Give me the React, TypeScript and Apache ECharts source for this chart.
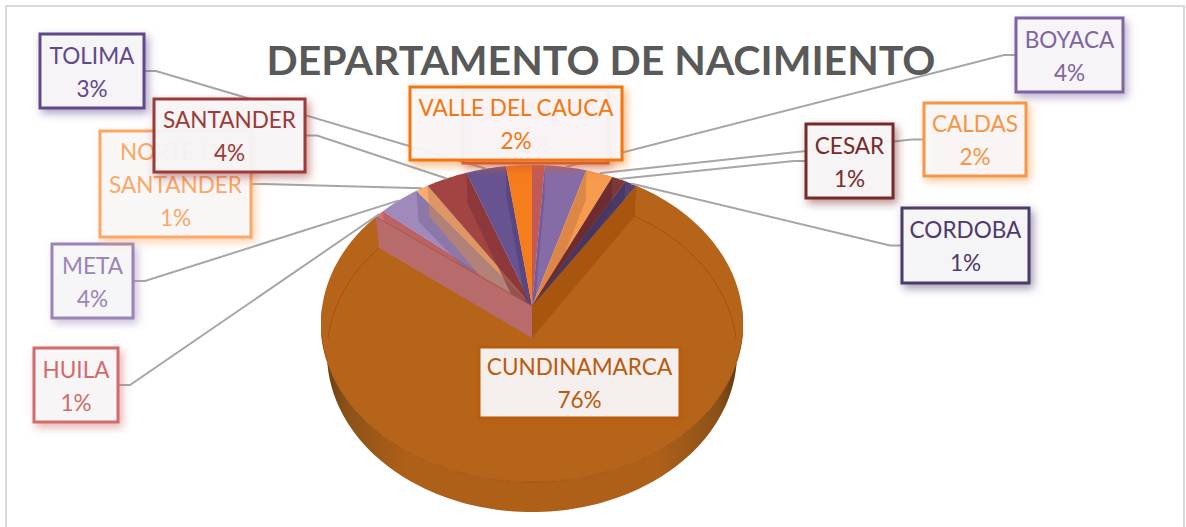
import React, { useEffect, useRef } from "react";
import * as echarts from "echarts";

const titleText = "DEPARTAMENTO DE NACIMIENTO";
const departments = ["ANTIOQUIA", "BOYACA", "CALDAS", "CESAR", "CORDOBA", "CUNDINAMARCA", "HUILA", "META", "NORTE DE\nSANTANDER", "SANTANDER", "TOLIMA", "VALLE DEL CAUCA"];
const shares = [1.08, 3.55, 2.3, 1.2, 1.03, 76.2, 0.83, 3.55, 1.08, 3.55, 3.4, 2.2];
const colors = ["#C0504D", "#8064A2", "#F79646", "#772C2A", "#4D3B6B", "#B85C10", "#D06C6C", "#9B84B8", "#FAA868", "#9C3A38", "#604A8B", "#F5760F"];

// label placement (x, y, w, h), side the leader leaves from
const boxes: any[] = [
  [463, 90, 145, 73, ""], [1016, 18, 107, 74, "L"], [924, 103, 102, 73, "L"], [806, 124, 87, 74, "L"],
  [902, 208, 127, 75, "L"], [479, 347, 201, 71, ""], [34, 348, 84, 74, "R"], [52, 244, 81, 74, "R"],
  [100, 131, 151, 106, "R"], [154, 99, 151, 73, "R"], [40, 34, 104, 74, "R"], [410, 87, 212, 73, ""],
];

const total = shares.reduce((a, b) => a + b, 0);
const starts: number[] = [];
shares.reduce((acc, v, i) => { starts[i] = (acc / total) * 360; return acc + v; }, 0);
const ends = starts.map((s, i) => s + (shares[i] / total) * 360);
const bigIndex = shares.indexOf(Math.max(...shares));

const FACES = [
  { ax: 532, ay: 306, R: 209.7, S: 156.6, p: 0.11 },
  { ax: 532, ay: 338, R: 204, S: 157, p: 0.098 },
];
function pt(deg: number, level: number): number[] {
  const f = FACES[level];
  const a = (deg * Math.PI) / 180;
  const d = 1 + f.p * Math.cos(a);
  return [f.ax + (f.R * Math.sin(a)) / d, f.ay - (f.S * Math.cos(a)) / d];
}
function arc(a: number, b: number, level: number): number[][] {
  const out: number[][] = [];
  const n = Math.max(2, Math.ceil(Math.abs(b - a) / 1.5));
  for (let i = 0; i <= n; i++) out.push(pt(a + ((b - a) * i) / n, level));
  return out;
}
const apex = (level: number) => [FACES[level].ax, FACES[level].ay];
const poly = (points: number[][], style: any) => ({ type: "polygon", silent: true, shape: { points }, style });
const wall = (deg: number, style: any) =>
  poly([apex(0), pt(deg, 0), pt(deg, 1), apex(1)], style);

function renderSlice(_: any, api: any) {
  const i = api.value(1);
  const c = colors[i];
  const children: any[] = [];
  if (i === bigIndex) {
    const s = starts[i], e = ends[i];
    const side = new echarts.graphic.LinearGradient(0, 0, 1, 0, [
      { offset: 0, color: "#5f3a14" }, { offset: 0.06, color: "#8a5218" }, { offset: 0.2, color: "#AE5F18" },
      { offset: 0.8, color: "#AE5F18" }, { offset: 0.94, color: "#8a5218" }, { offset: 1, color: "#533212" },
    ]);
    children.push(poly([...arc(90, 270, 0), ...arc(270, 90, 1)], { fill: side }));
    children.push(poly([apex(0), ...arc(s, e, 0)], { fill: "#B66419" }));
    const line = { fill: "none", stroke: "#9E500F", lineWidth: 1, opacity: 0.8 };
    children.push({ type: "polyline", silent: true, shape: { points: arc(s, 90, 1) }, style: line });
    children.push({ type: "polyline", silent: true, shape: { points: arc(270, e, 1) }, style: line });
    children.push({ type: "polyline", silent: true, shape: { points: arc(100, 260, 0) }, style: line });
  } else {
    const mid = (starts[i] + ends[i]) / 2;
    const inner = mid > 180 ? ends[i] : starts[i];
    children.push(poly([apex(0), ...arc(starts[i], ends[i], 0)], { fill: c, opacity: 0.95 }));
    children.push(wall(inner, { fill: c, opacity: 0.55 }));
    children.push(wall(inner, { fill: "#1a1030", opacity: 0.12 }));
  }
  return { type: "group", children };
}

// the two cut faces of the largest slice sit in front of the small slices
function renderCutFaces(_: any, api: any) {
  const i = api.value(1);
  if (i !== bigIndex) return { type: "group", children: [] };
  return {
    type: "group",
    children: [
      wall(starts[i], { fill: "#A8550F" }),
      wall(ends[i], { fill: "#B86B6B" }),
      { type: "polyline", silent: true, shape: { points: [apex(0), pt(ends[i], 0)] }, style: { fill: "none", stroke: "#A4584A", lineWidth: 1 } },
    ],
  };
}

function renderLeader(_: any, api: any) {
  const i = api.value(1);
  const [x, y, w, h, side] = boxes[i];
  if (!side) return { type: "group", children: [] };
  const target = pt((starts[i] + ends[i]) / 2, 0);
  const edge = side === "R" ? x + w : x;
  const elbow = side === "R" ? edge + 12 : edge - 12;
  const my = y + h / 2;
  return {
    type: "polyline", silent: true,
    shape: { points: [[edge, my], [elbow, my], target] },
    style: { fill: "none", stroke: "#A6A6A6", lineWidth: 2 },
  };
}

function renderLabel(_: any, api: any) {
  const i = api.value(1);
  const [x, y, w, h] = boxes[i];
  const c = colors[i];
  return {
    type: "group",
    children: [
      {
        type: "rect", silent: true, shape: { x, y, width: w, height: h },
        style: { fill: "rgba(249,248,249,0.93)", stroke: c, lineWidth: 3, shadowBlur: 8, shadowOffsetX: 3, shadowOffsetY: 4, shadowColor: c + "88" },
      },
      {
        type: "text", silent: true, x: x + w / 2, y: y + h / 2, scaleX: 0.94,
        style: {
          text: `${departments[i]}\n${Math.round(shares[i])}%`,
          align: "center", verticalAlign: "middle",
          font: '24px Lato', lineHeight: 33, fill: c,
        },
      },
    ],
  };
}

export default function App() {
  const ref = useRef<HTMLDivElement>(null);
  useEffect(() => {
    const chart = echarts.init(ref.current!, undefined, { renderer: "svg" });
    const pieData = shares.map((v, i) => ({ name: departments[i], value: [v, i] }));
    const ordered = [pieData[bigIndex], ...pieData.filter((_, i) => i !== bigIndex)];
    chart.setOption({
      animation: false,
      backgroundColor: "#FFFFFF",
      title: {
        text: titleText, left: 596, top: 34, textAlign: "center", z: 1,
        textStyle: { fontFamily: "Lato", fontWeight: "bold", fontSize: 41, color: "#595959" },
      },
      graphic: [{
        type: "rect", z: 0, silent: true,
        shape: { x: 6, y: 6, width: 1178, height: 540 },
        style: { fill: "#fff", stroke: "#D9D9D9", lineWidth: 2 },
      }],
      series: [
        { type: "custom", coordinateSystem: "none", z: 2, renderItem: renderSlice, data: ordered, silent: true },
        { type: "custom", coordinateSystem: "none", z: 3, renderItem: renderCutFaces, data: pieData, silent: true },
        { type: "custom", coordinateSystem: "none", z: 4, renderItem: renderLeader, data: pieData, silent: true },
        { type: "custom", coordinateSystem: "none", z: 5, renderItem: renderLabel, data: pieData, silent: true },
      ],
    });
    return () => chart.dispose();
  }, []);
  return <div ref={ref} style={{ position: "fixed", left: 0, top: 0, width: 1186, height: 527, transform: "translateX(-0px)" }} />;
}
